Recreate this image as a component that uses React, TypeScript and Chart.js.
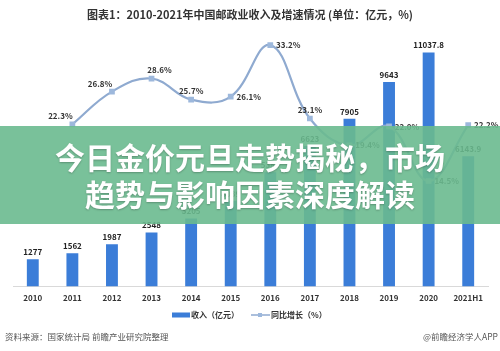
import React, { useEffect, useRef } from "react";
import { Chart, registerables } from "chart.js";

Chart.register(...registerables);

const categories = ["2010", "2011", "2012", "2013", "2014", "2015", "2016", "2017", "2018", "2019", "2020", "2021H1"];
const revenue = [1277, 1562, 1987, 2548, 3205, 4039, 5380, 6623, 7905, 9643, 11037.8, 6143.9];
const growth = [null, 22.3, 26.8, 28.6, 25.7, 26.1, 33.2, 23.1, 19.4, 22.0, 14.5, 22.2];
const growthLabelSide = ["", "aboveLeft", "aboveLeft", "aboveRight", "above", "right", "right", "above", "right", "right", "right", "right"];

const titleText = "图表1：2010-2021年中国邮政业收入及增速情况 (单位：亿元，%)";
const legendBar = "收入（亿元）";
const legendLine = "同比增长（%）";
const sourceText = "资料来源：国家统计局 前瞻产业研究院整理";
const brandText = "@前瞻经济学人APP";
const bannerLines = ["今日金价元旦走势揭秘，市场", "趋势与影响因素深度解读"];

const FONT = '"Noto Sans CJK SC", "Noto Sans", sans-serif';
const BAR_COLOR = "#3B7DD8";
const LINE_COLOR = "#8FAAD0";
const POINT_COLOR = "#9DB8DC";

const overlayPlugin = {
  id: "overlayPlugin",
  afterDraw(chart: any) {
    const ctx = chart.ctx;
    ctx.save();
    // title
    ctx.fillStyle = "#333";
    ctx.font = `bold 11px ${FONT}`;
    ctx.textAlign = "center";
    ctx.textBaseline = "middle";
    ctx.fillText(titleText, 250, 15);

    // bar labels
    const barMeta = chart.getDatasetMeta(0);
    ctx.font = `bold 8px ${FONT}`;
    ctx.fillStyle = "#222";
    ctx.textBaseline = "alphabetic";
    barMeta.data.forEach((el: any, i: number) => {
      ctx.fillText(String(revenue[i]), el.x, el.y - 4);
    });

    // line labels
    const lineMeta = chart.getDatasetMeta(1);
    ctx.textBaseline = "middle";
    lineMeta.data.forEach((el: any, i: number) => {
      const v = growth[i];
      if (v === null || v === undefined) return;
      const txt = v.toFixed(1) + "%";
      let x = el.x, y = el.y;
      const side = growthLabelSide[i];
      if (side === "aboveLeft") { x -= 12; y -= 8; }
      else if (side === "aboveRight") { x += 8; y -= 9; }
      else if (side === "above") { y -= 9; }
      else { x += 18; }
      ctx.textAlign = "center";
      ctx.fillStyle = "#333";
      ctx.fillText(txt, x, y);
    });

    // legend
    const ly = 315;
    ctx.fillStyle = BAR_COLOR;
    ctx.fillRect(172, ly - 2.5, 18, 5);
    ctx.fillStyle = "#333";
    ctx.font = `bold 8px ${FONT}`;
    ctx.textAlign = "left";
    ctx.fillText(legendBar, 191, ly);
    ctx.strokeStyle = LINE_COLOR;
    ctx.lineWidth = 1.5;
    ctx.beginPath();
    ctx.moveTo(251, ly);
    ctx.lineTo(270, ly);
    ctx.stroke();
    ctx.fillStyle = POINT_COLOR;
    ctx.fillRect(258, ly - 2, 4, 4);
    ctx.fillStyle = "#333";
    ctx.fillText(legendLine, 271, ly);

    // source
    ctx.font = `8.5px ${FONT}`;
    ctx.fillStyle = "#555";
    ctx.textAlign = "left";
    ctx.fillText(sourceText, 5, 337);
    ctx.textAlign = "right";
    ctx.fillText(brandText, 498, 337);
    ctx.restore();
  },
};

function ChartCanvas() {
  const ref = useRef<HTMLCanvasElement | null>(null);
  useEffect(() => {
    if (!ref.current) return;
    const chart = new Chart(ref.current, {
      type: "bar",
      data: {
        labels: categories,
        datasets: [
          {
            type: "bar",
            label: legendBar,
            data: revenue,
            backgroundColor: BAR_COLOR,
            barPercentage: 0.3,
            categoryPercentage: 1,
            yAxisID: "y",
            order: 1,
          },
          {
            type: "line",
            label: legendLine,
            data: growth as any,
            borderColor: LINE_COLOR,
            borderWidth: 2.2,
            backgroundColor: POINT_COLOR,
            pointStyle: "rect",
            pointRadius: 2.5,
            pointBackgroundColor: POINT_COLOR,
            pointBorderColor: POINT_COLOR,
            tension: 0.4,
            yAxisID: "y1",
            order: 0,
          },
        ],
      },
      options: {
        responsive: false,
        animation: false,
        layout: { padding: { left: 13, right: 12, top: 32, bottom: 41 } },
        plugins: {
          legend: { display: false },
          title: { display: false },
          tooltip: { enabled: false },
        },
        scales: {
          x: {
            grid: { display: false, drawTicks: false },
            border: { display: true, color: "#d9d9d9", width: 1 },
            ticks: { color: "#333", font: { family: FONT, size: 8, weight: "bold" }, padding: 7, maxRotation: 0, autoSkip: false },
          },
          y: { display: false, min: 0, max: 12000 },
          y1: { display: false, min: 0, max: 35, position: "right" },
        },
      },
      plugins: [overlayPlugin],
    });
    return () => chart.destroy();
  }, []);
  return <canvas ref={ref} width={500} height={351} style={{ display: "block" }} />;
}

export default function App() {
  return (
    <div style={{ position: "absolute", left: 0, top: 0, width: 500, height: 351, background: "#fff", overflow: "hidden" }}>
      <ChartCanvas />
      <div
        style={{
          position: "absolute",
          left: 0,
          top: 126,
          width: 500,
          height: 98,
          background: "rgba(106,186,143,0.9)",
          display: "flex",
          flexDirection: "column",
          alignItems: "center",
          justifyContent: "center",
          color: "#fff",
          fontFamily: FONT,
          fontWeight: 700,
          fontSize: 30,
          lineHeight: "37px",
          textShadow: "0 1px 2px rgba(0,0,0,0.25)",
        }}
      >
        {bannerLines.map((l) => (
          <div key={l}>{l}</div>
        ))}
      </div>
    </div>
  );
}
